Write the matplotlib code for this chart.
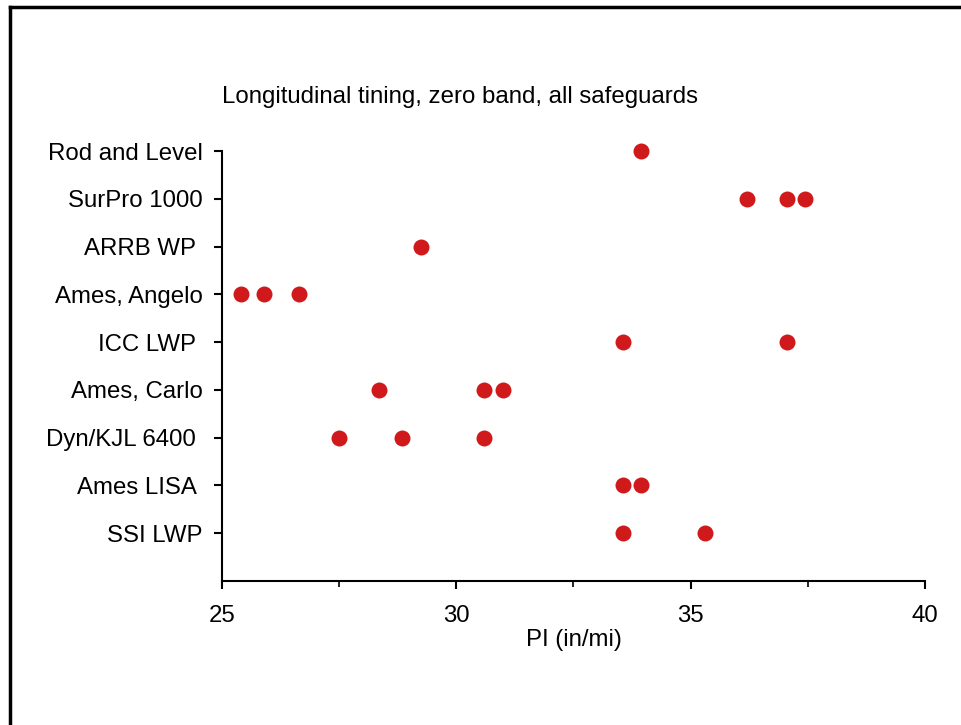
import numpy as np
import matplotlib
matplotlib.use("Agg")
import matplotlib.pyplot as plt
from matplotlib.lines import Line2D

plt.rcParams['font.family'] = ['Liberation Sans', 'DejaVu Sans']

# categories, bottom to top
devices = ["SSI LWP", "Ames LISA ", "Dyn/KJL 6400 ", "Ames, Carlo", "ICC LWP ",
           "Ames, Angelo", "ARRB WP ", "SurPro 1000", "Rod and Level"]

# PI values (in/mi) per device
pi_values = [
    [33.55, 35.3],
    [33.55, 33.95],
    [27.5, 28.85, 30.6],
    [28.35, 30.6, 31.0],
    [33.55, 37.05],
    [25.4, 25.9, 26.65],
    [29.25],
    [36.2, 37.05, 37.45],
    [33.95],
]

xticks = [25, 30, 35, 40]
title = "Longitudinal tining, zero band, all safeguards"
xlabel = "PI (in/mi)"

fs = 17.3

fig = plt.figure(figsize=(9.61, 7.25), dpi=100)
ax = fig.add_axes([0.231, 0.1986, 0.7315, 0.5931])

for i, vals in enumerate(pi_values):
    ax.plot(vals, [i] * len(vals), 'o', color='#D0191B', markersize=11.5,
            markeredgewidth=0, clip_on=False)

ax.set_xlim(25, 40)
ax.set_ylim(-1, len(devices) - 1)
ax.set_xticks(xticks)
ax.set_xticks([27.5, 32.5, 37.5], minor=True)
ax.set_yticks(range(len(devices)))
ax.set_yticklabels(devices)

for s in ['top', 'right']:
    ax.spines[s].set_visible(False)
for s in ['left', 'bottom']:
    ax.spines[s].set_linewidth(1.5)

ax.tick_params(axis='both', which='major', labelsize=fs, width=1.5, length=6, direction='out')
ax.tick_params(axis='x', which='major', pad=11)
ax.tick_params(axis='x', which='minor', width=1.2, length=4, direction='out')
ax.tick_params(axis='y', which='major', pad=8)

ax.set_xlabel(xlabel, fontsize=fs, labelpad=2)
fig.text(0.4786, 0.866, title, fontsize=fs, ha='center', va='center')

# frame lines on the left and top of the figure
fig.add_artist(Line2D([0.0104, 0.0104], [0, 0.9903], transform=fig.transFigure, color='black', lw=2.5))
fig.add_artist(Line2D([0.0104, 1.0], [0.9903, 0.9903], transform=fig.transFigure, color='black', lw=2.5))

fig.savefig("out.png", dpi=100)
